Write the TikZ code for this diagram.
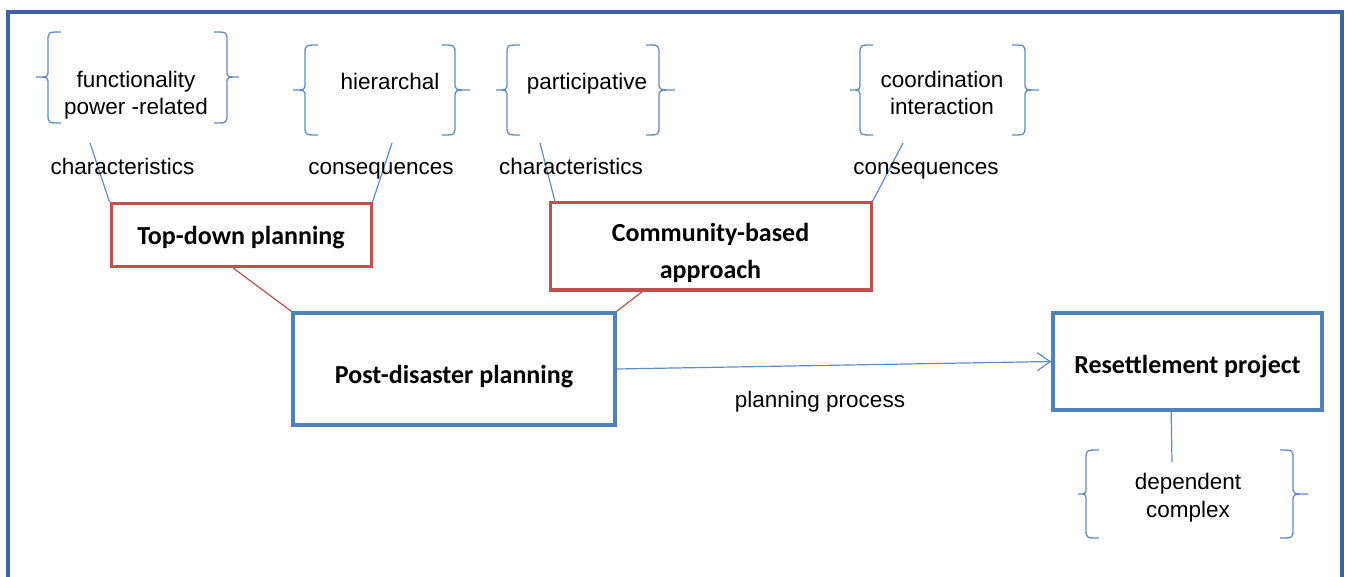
\documentclass[tikz,border=0pt]{standalone}
\usepackage{fontspec}
\setmainfont{Liberation Sans}
\newfontfamily\boxfont{Carlito}
\usetikzlibrary{arrows.meta,calc}

\definecolor{framecol}{RGB}{59,100,160}
\definecolor{bluebox}{RGB}{79,129,189}
\definecolor{redbox}{RGB}{192,80,77}
\definecolor{linkblue}{RGB}{95,140,195}

% a pair of curly braces: #1 left spine x, #2 right spine x, #3 top y,
% #4 bottom y, #5 left tip x, #6 right tip x, #7 middle y
\newcommand{\bracepair}[7]{%
  \draw[bracepen] (#1+13,#3) .. controls (#1,#3) .. (#1,#3+9) -- (#1,#7-7)
     .. controls (#1,#7) .. (#5,#7) .. controls (#1,#7) .. (#1,#7+7)
     -- (#1,#4-9) .. controls (#1,#4) .. (#1+13,#4);
  \draw[bracepen] (#2-13,#3) .. controls (#2,#3) .. (#2,#3+9) -- (#2,#7-7)
     .. controls (#2,#7) .. (#6,#7) .. controls (#2,#7) .. (#2,#7+7)
     -- (#2,#4-9) .. controls (#2,#4) .. (#2-13,#4);
}

\tikzset{
  bracepen/.style={draw=linkblue, line width=1.3pt},
  % anchored on the baseline of the last line
  word/.style={inner sep=0pt, align=center, anchor=base, font=\fontsize{22.5}{27.5}\selectfont},
  boxbase/.style={inner sep=0pt, align=center, fill=white,
     font=\boxfont\bfseries\fontsize{26}{37}\selectfont},
  redbox/.style={boxbase, draw=redbox, line width=3pt},
  bluebox/.style={boxbase, draw=bluebox, line width=3.5pt},
  bluelink/.style={draw=linkblue, line width=1.2pt},
  redlink/.style={draw=redbox, line width=1.2pt},
}

\begin{document}
\begin{tikzpicture}[x=1pt, y=-1pt]
  \useasboundingbox (0,0) rectangle (1346,577);

  % outer frame, open at the bottom
  \draw[framecol, line width=3.5pt] (8,585) -- (8,12) -- (1342,12) -- (1342,585);

  % braces
  \bracepair{48}{227}{32}{123}{36}{239}{77}
  \bracepair{305}{455}{45}{135}{293}{470}{90}
  \bracepair{507}{659}{45}{135}{496}{675}{90}
  \bracepair{860}{1025}{45}{135}{850}{1039}{90}
  \bracepair{1086}{1293}{450}{538}{1078}{1308}{494}

  % brace contents
  \node[word] (func) at (136,115) {functionality\\power -related};
  \node[word] (hier) at (390,90) {hierarchal};
  \node[word] (part) at (587,90) {participative};
  \node[word] (coord) at (942,115) {coordination\\interaction};
  \node[word] (dep) at (1188,517) {dependent\\complex};

  % link end points below the braces
  \coordinate (e1) at (90,143);
  \coordinate (e2) at (392,143);
  \coordinate (e3) at (540,143);
  \coordinate (e4) at (903,143);
  \coordinate (e5) at (1172,462);

  % boxes
  \node[redbox, minimum width=260pt, minimum height=63pt, text height=25pt, text depth=5pt]
     (td) at (241,235) {Top-down planning};
  \node[redbox, minimum width=321pt, minimum height=87pt]
     (cb) at (710.5,246.5) {\rule{0pt}{31pt}Community-based\\approach};
  \node[bluebox, minimum width=322pt, minimum height=112pt, text height=33pt, text depth=5pt]
     (pd) at (454,369) {Post-disaster planning};
  \node[bluebox, minimum width=269pt, minimum height=97pt, text height=28pt, text depth=5pt]
     (rs) at (1187.5,361.5) {Resettlement project};

  % links from boxes to braces
  \draw[bluelink] (td.north west) -- (e1);
  \draw[bluelink] (td.north east) -- (e2);
  \draw[bluelink] ($(cb.north west)!0.02!(cb.north east)$) -- (e3);
  \draw[bluelink] (cb.north east) -- (e4);
  \draw[bluelink] ($(rs.south west)!0.44!(rs.south east)$) -- (e5);

  % link labels
  \node[word] (ch1) at (122.5,175) {characteristics};
  \node[word] (co1) at (381,175) {consequences};
  \node[word] (ch2) at (571,175) {characteristics};
  \node[word] (co2) at (926,175) {consequences};

  % planning links
  \draw[redlink] ($(td.south west)!0.47!(td.south east)$) -- (pd.north west);
  \draw[redlink] ($(cb.south west)!0.29!(cb.south east)$) -- (pd.north east);
  \draw[bluelink, -{Straight Barb[length=13pt,width=18pt,line width=1.2pt]}] (pd.east) -- (rs.west);
  \node[word] (pp) at (820,407) {planning process};
\end{tikzpicture}
\end{document}
